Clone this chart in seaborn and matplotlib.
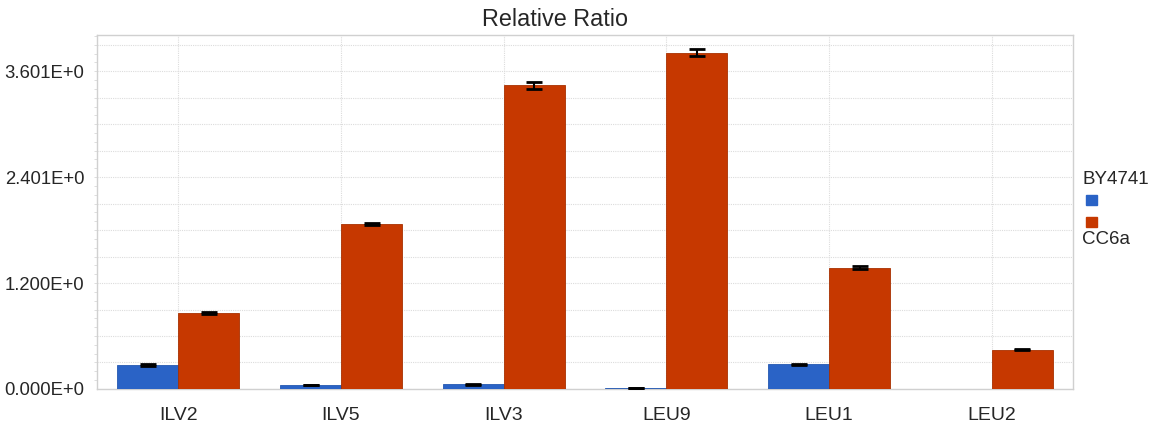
import numpy as np
import pandas as pd
import matplotlib
matplotlib.use("Agg")
import matplotlib.pyplot as plt
from matplotlib.patches import Rectangle
from matplotlib.ticker import MultipleLocator
import seaborn as sns

genes = ["ILV2", "ILV5", "ILV3", "LEU9", "LEU1", "LEU2"]
strains = ["BY4741", "CC6a"]
by4741 = [0.27, 0.045, 0.053, 0.012, 0.28, 0.0]
cc6a = [0.86, 1.87, 3.44, 3.81, 1.374, 0.445]
by4741_err = [0.008, 0.004, 0.004, 0.003, 0.006, 0.0]
cc6a_err = [0.008, 0.015, 0.037, 0.04, 0.015, 0.006]
colors = ["#2a63c6", "#c63800"]

df = pd.DataFrame({
    "gene": genes * 2,
    "strain": [strains[0]] * len(genes) + [strains[1]] * len(genes),
    "ratio": by4741 + cc6a,
})

sns.set_style("white")
plt.rcParams["font.family"] = ["Liberation Sans", "DejaVu Sans"]

fig = plt.figure(figsize=(11.54, 4.26), dpi=100)
ax = fig.add_axes([0.0841, 0.0869, 0.8457, 0.8309])

sns.barplot(data=df, x="gene", y="ratio", hue="strain", order=genes,
            hue_order=strains, palette=colors, width=0.75, errorbar=None,
            edgecolor="#a83000", linewidth=0.6, saturation=1, ax=ax, zorder=3)
ax.get_legend().remove()

# error bars on top of each bar
for cont, errs in zip(ax.containers, [by4741_err, cc6a_err]):
    for bar, e in zip(cont, errs):
        h = bar.get_height()
        if h <= 0:
            continue
        ax.errorbar(bar.get_x() + bar.get_width() / 2, h, yerr=e, fmt="none",
                    ecolor="black", elinewidth=1.5, capsize=5.5, capthick=2, zorder=4)

# blue bars: edge close to fill
for bar in ax.containers[0]:
    bar.set_edgecolor("#2458b0")

step = 3.601 / 12
ticks = np.arange(0, 14) * step
ax.set_yticks(ticks)
ax.set_yticklabels([f"{v:.3f}E+0" if i % 4 == 0 else "" for i, v in enumerate(ticks)])
ax.yaxis.set_minor_locator(MultipleLocator(0.1))
ax.set_ylim(0, 4.01)
ax.set_xlim(-0.5, 5.5)

ax.grid(True, axis="both", color="#dcdcdc", linestyle=(0, (1, 1)), linewidth=0.8, zorder=0)
ax.set_axisbelow(True)
for s in ax.spines.values():
    s.set_color("#d0d0d0")
    s.set_linewidth(1.0)

ax.tick_params(axis="x", length=0, pad=13, labelsize=14)
ax.tick_params(axis="y", which="major", length=3, color="#c8c8c8", pad=6, labelsize=13.3)
ax.tick_params(axis="y", which="minor", length=2, color="#d8d8d8", left=True)
ax.set_xlabel("")
ax.set_ylabel("")

fig.text(555 / 1154, 1 - 20 / 426, "Relative Ratio", ha="center", va="center", fontsize=16.8)

# legend
W, H = 1154, 426
fig.text(1082 / W, 1 - 184 / H, strains[0], fontsize=13.5, ha="left", va="baseline")
fig.patches.append(Rectangle((1086 / W, 1 - 205 / H), 11 / W, 10 / H,
                             transform=fig.transFigure, color=colors[0]))
fig.patches.append(Rectangle((1086 / W, 1 - 227 / H), 11 / W, 10 / H,
                             transform=fig.transFigure, color=colors[1]))
fig.text(1082 / W, 1 - 244 / H, strains[1], fontsize=13.5, ha="left", va="baseline")

fig.savefig("out.png", dpi=100)
